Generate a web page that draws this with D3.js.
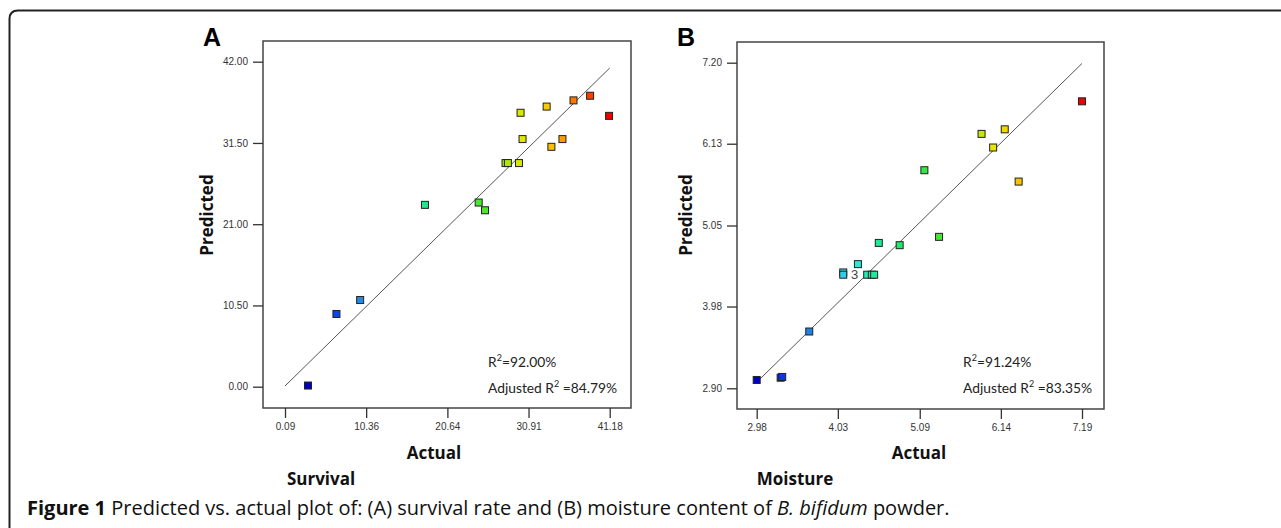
<!DOCTYPE html>
<html lang="en">
<head>
  <meta charset="UTF-8">
  <title>Predicted vs. actual - B. bifidum powder</title>
  <script src="https://d3js.org/d3.v7.min.js"></script>
  <style>
    body { margin: 0; background: #fff; }
    .tick text { font-family: 'Liberation Sans', Arial, sans-serif; font-size: 10px; fill: #333; }
    .tick line { stroke: #333; stroke-width: 1.3; }
    .axis-title { font-family: 'Open Sans', sans-serif; font-weight: bold; font-size: 17px; fill: #111; }
    .r2 { font-family: 'Liberation Sans Narrow', Lato, 'Open Sans', sans-serif; font-size: 14.5px; fill: #222; }
    .caption { font-family: 'Open Sans', sans-serif; font-size: 20px; fill: #111; }
  </style>
</head>
<body>
<script>
  // panel A: survival
  const survivalActual    = [3.0, 6.6, 9.6, 17.8, 24.6, 25.4, 28.0, 28.3, 29.7, 29.9, 30.15, 33.2, 33.8, 35.2, 36.6, 38.7, 41.1];
  const survivalPredicted = [0.15, 9.4, 11.2, 23.5, 23.8, 22.8, 28.9, 28.9, 28.9, 35.4, 32.0, 36.2, 31.0, 32.0, 37.0, 37.6, 35.0];
  const survivalXTicks = ["0.09", "10.36", "20.64", "30.91", "41.18"];
  const survivalYTicks = ["0.00", "10.50", "21.00", "31.50", "42.00"];

  // panel B: moisture
  const moistureActual    = [2.98, 3.29, 3.31, 3.66, 4.10, 4.10, 4.29, 4.41, 4.47, 4.50, 4.56, 4.83, 5.15, 5.34, 5.89, 6.04, 6.19, 6.37, 7.19];
  const moisturePredicted = [3.01, 3.04, 3.05, 3.65, 4.43, 4.40, 4.54, 4.40, 4.40, 4.40, 4.82, 4.79, 5.78, 4.90, 6.26, 6.08, 6.32, 5.63, 6.69];
  const moistureXTicks = ["2.98", "4.03", "5.09", "6.14", "7.19"];
  const moistureYTicks = ["2.90", "3.98", "5.05", "6.13", "7.20"];
  const moistureCountLabel = { index: 7, text: "3" };

  // design-expert style colour ramp, low (blue) to high (red)
  const rampStops  = [0, 0.08, 0.16, 0.24, 0.3, 0.36, 0.45, 0.6, 0.66, 0.72, 0.8, 0.86, 0.92, 1];
  const rampColors = ["#0000c0", "#0838f0", "#2080e0", "#30b8f0", "#30e8e0", "#20e8a0", "#20e860",
                      "#50e820", "#a8e800", "#e8e800", "#f8c800", "#f89000", "#f85000", "#f00000"];
  const ramp = d3.scaleLinear().domain(rampStops).range(rampColors);

  const svg = d3.select("body").append("svg")
    .attr("width", 1281)
    .attr("height", 528);

  // outer figure box (only top-left part shows)
  svg.append("path")
    .attr("d", "M9.5,540 L9.5,19 Q9.5,10.5 18,10.5 L1290,10.5")
    .attr("fill", "none")
    .attr("stroke", "#222")
    .attr("stroke-width", 2);

  function drawPanel(o) {
    const g = svg.append("g");
    const x = d3.scaleLinear().domain([+o.xTicks[0], +o.xTicks[4]]).range(o.xRange);
    const y = d3.scaleLinear().domain([+o.yTicks[0], +o.yTicks[4]]).range(o.yRange);
    const f = o.frame;

    g.append("rect")
      .attr("x", f.x0).attr("y", f.y0)
      .attr("width", f.x1 - f.x0).attr("height", f.y1 - f.y0)
      .attr("fill", "none").attr("stroke", "#444").attr("stroke-width", 1.5);

    const yAxis = g.append("g")
      .attr("transform", `translate(${f.x0},0)`)
      .call(d3.axisLeft(y).tickValues(o.yTicks.map(Number)).tickFormat((d, i) => o.yTicks[i])
        .tickSizeInner(10).tickSizeOuter(0).tickPadding(5));
    yAxis.select(".domain").remove();

    const xAxis = g.append("g")
      .attr("transform", `translate(0,${f.y1})`)
      .call(d3.axisBottom(x).tickValues(o.xTicks.map(Number)).tickFormat((d, i) => o.xTicks[i])
        .tickSizeInner(10).tickSizeOuter(0).tickPadding(5));
    xAxis.select(".domain").remove();

    // 1:1 line
    const lo = +o.xTicks[0], hi = +o.xTicks[4];
    g.append("path")
      .attr("d", d3.line().x(d => x(d)).y(d => y(d))([lo, hi]))
      .attr("stroke", "#555").attr("stroke-width", 1).attr("fill", "none");

    const cmin = d3.min(o.actual), cmax = d3.max(o.actual);
    const s = 7;
    g.append("g").selectAll("rect")
      .data(o.actual.map((a, i) => ({ a, p: o.predicted[i] })))
      .join("rect")
      .attr("x", d => x(d.a) - s / 2)
      .attr("y", d => y(d.p) - s / 2)
      .attr("width", s).attr("height", s)
      .attr("fill", d => ramp((d.a - cmin) / (cmax - cmin)))
      .attr("stroke", "#222").attr("stroke-width", 1);

    if (o.countLabel) {
      const i = o.countLabel.index;
      g.append("text")
        .attr("x", x(o.actual[i]) - 9)
        .attr("y", y(o.predicted[i]))
        .attr("dy", "0.35em")
        .attr("text-anchor", "end")
        .attr("font-family", "'Liberation Sans', Arial, sans-serif")
        .attr("font-size", 13)
        .attr("fill", "#444")
        .text(o.countLabel.text);
    }

    // panel letter
    g.append("text")
      .attr("x", o.letterX).attr("y", 46)
      .attr("font-family", "'Liberation Sans', Arial, sans-serif")
      .attr("font-weight", "bold").attr("font-size", 25)
      .text(o.letter);

    g.append("text")
      .attr("class", "axis-title")
      .attr("transform", `translate(${o.predX},215) rotate(-90)`)
      .attr("text-anchor", "middle")
      .text("Predicted");

    g.append("text")
      .attr("class", "axis-title")
      .attr("x", o.actualX).attr("y", 459)
      .attr("text-anchor", "middle")
      .text("Actual");

    g.append("text")
      .attr("class", "axis-title")
      .attr("x", o.nameX).attr("y", 485)
      .attr("text-anchor", "middle")
      .text(o.name);

    const r1 = g.append("text").attr("class", "r2").attr("x", o.r2X).attr("y", 367);
    r1.append("tspan").text("R");
    r1.append("tspan").attr("dy", -6).attr("font-size", 9).text("2");
    r1.append("tspan").attr("dy", 6).text("=" + o.r2);

    const r2 = g.append("text").attr("class", "r2").attr("x", o.r2X).attr("y", 393);
    r2.append("tspan").text("Adjusted R");
    r2.append("tspan").attr("dy", -6).attr("font-size", 9).text("2");
    r2.append("tspan").attr("dy", 6).text(" =" + o.adjR2);

    // shrink the R² lines so the adjusted line is ~129px wide
    const w = r2.node().getComputedTextLength();
    if (w > 130) {
      const fs = 14.5 * 129 / w;
      r1.style("font-size", fs + "px");
      r2.style("font-size", fs + "px");
    }
  }

  drawPanel({
    letter: "A", letterX: 203, name: "Survival",
    actual: survivalActual, predicted: survivalPredicted,
    xTicks: survivalXTicks, yTicks: survivalYTicks,
    frame: { x0: 263, x1: 631, y0: 41, y1: 408 },
    xRange: [285, 609.7], yRange: [386.7, 61.7],
    predX: 213, actualX: 434, nameX: 321, r2X: 488,
    r2: "92.00%", adjR2: "84.79%"
  });

  drawPanel({
    letter: "B", letterX: 677, name: "Moisture",
    actual: moistureActual, predicted: moisturePredicted,
    xTicks: moistureXTicks, yTicks: moistureYTicks,
    frame: { x0: 737, x1: 1104, y0: 42, y1: 409 },
    xRange: [756.7, 1082], yRange: [388.3, 62.7],
    predX: 692, actualX: 919, nameX: 795, r2X: 963,
    r2: "91.24%", adjR2: "83.35%",
    countLabel: moistureCountLabel
  });

  const cap = svg.append("text").attr("class", "caption").attr("x", 27).attr("y", 515);
  cap.append("tspan").attr("font-weight", "bold").text("Figure 1");
  cap.append("tspan").text(" Predicted vs. actual plot of: (A) survival rate and (B) moisture content of ");
  cap.append("tspan").attr("font-style", "italic").text("B. bifidum");
  cap.append("tspan").text(" powder.");
</script>
</body>
</html>
